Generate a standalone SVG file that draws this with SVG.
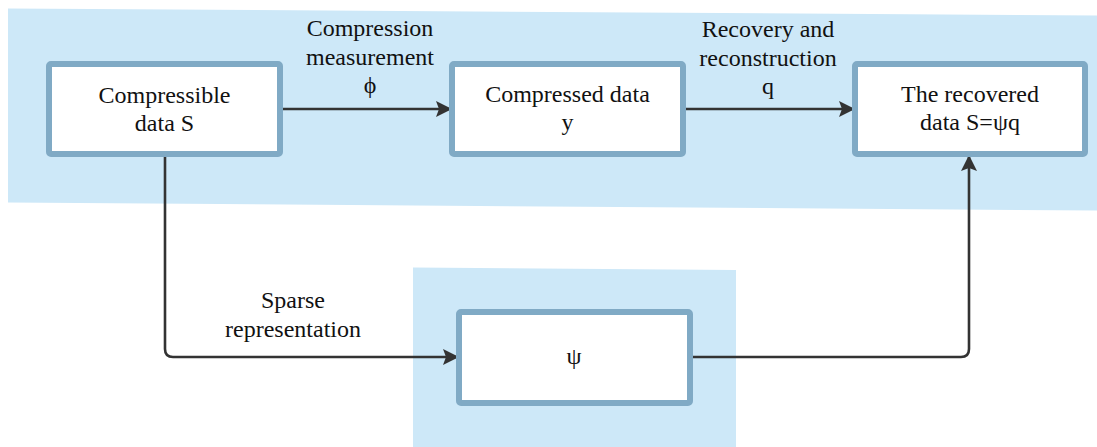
<svg xmlns="http://www.w3.org/2000/svg" width="1097" height="447" viewBox="0 0 1097 447">
  <defs>
    <marker id="arrow" markerUnits="userSpaceOnUse" markerWidth="16" markerHeight="16" refX="15" refY="8" orient="auto">
      <path d="M0,0 L16,8 L0,16 L3,8 z" fill="#333333"/>
    </marker>
    <style>
      .band { fill: #cde8f8; }
      .box { fill: #ffffff; stroke: #80aac5; stroke-width: 6; }
      .lbl { font-size: 24px; fill: #111111; text-anchor: middle; }
      .edge { fill: none; stroke: #333333; stroke-width: 2.6; }
    </style>
  </defs>

  <rect width="1097" height="447" fill="#ffffff"/>

  <!-- shaded background bands -->
  <polygon class="band" points="8,8.5 1097,15.5 1097,210.5 8,202.5"/>
  <polygon class="band" points="413,267.5 736,270 736,447 413,447"/>

  <g font-family="'Liberation Serif', serif">
    <!-- connectors -->
    <g id="connectors">
      <line class="edge" x1="283" y1="109" x2="451" y2="109" marker-end="url(#arrow)"/>
      <line class="edge" x1="686" y1="109" x2="854" y2="109" marker-end="url(#arrow)"/>
      <path class="edge" d="M165,157 V349 Q165,357 173,357 H458" marker-end="url(#arrow)"/>
      <path class="edge" d="M690,357 H961 Q969,357 969,349 V156" marker-end="url(#arrow)"/>
      <text class="lbl" x="370" y="36">Compression</text>
      <text class="lbl" x="370" y="65">measurement</text>
      <text class="lbl" x="370" y="93">ϕ</text>
      <text class="lbl" x="768" y="37">Recovery and</text>
      <text class="lbl" x="768" y="66">reconstruction</text>
      <text class="lbl" x="768" y="94">q</text>
      <text class="lbl" x="293" y="308">Sparse</text>
      <text class="lbl" x="293" y="337">representation</text>
    </g>

    <!-- nodes -->
    <g id="node-source">
      <rect class="box" x="49" y="64" width="231" height="90" rx="2"/>
      <text class="lbl" x="164.5" y="103">Compressible</text>
      <text class="lbl" x="164.5" y="131">data S</text>
    </g>
    <g id="node-compressed">
      <rect class="box" x="452" y="64" width="231" height="90" rx="2"/>
      <text class="lbl" x="567.5" y="102">Compressed data</text>
      <text class="lbl" x="567.5" y="130">y</text>
    </g>
    <g id="node-recovered">
      <rect class="box" x="855" y="64" width="230" height="90" rx="2"/>
      <text class="lbl" x="970" y="102">The recovered</text>
      <text class="lbl" x="970" y="130">data S=ψq</text>
    </g>
    <g id="node-basis">
      <rect class="box" x="459" y="312" width="231" height="91" rx="2"/>
      <text class="lbl" x="574" y="364">ψ</text>
    </g>
  </g>
</svg>
